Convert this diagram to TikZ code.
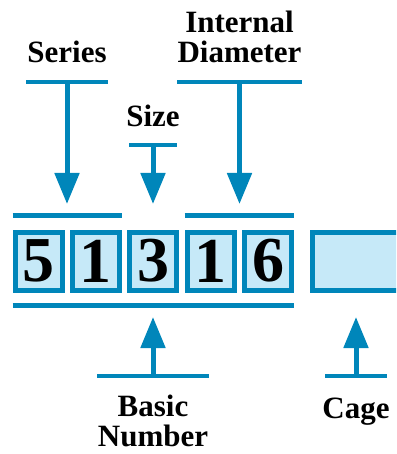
\documentclass[tikz,border=0pt]{standalone}
\usepackage{fontspec}
\setmainfont{Liberation Serif}
\usetikzlibrary{arrows.meta}
\definecolor{bblue}{RGB}{0,134,186}
\definecolor{bfill}{RGB}{198,233,248}
\begin{document}
\begin{tikzpicture}[x=1pt,y=-1pt,
  digit/.style={draw=bblue,fill=bfill,line width=5pt,minimum width=47pt,minimum height=58pt,inner sep=0pt,font=\fontsize{64}{64}\selectfont\bfseries},
  lbl/.style={font=\fontsize{31}{30}\selectfont\bfseries,align=center,inner sep=0pt,anchor=base},
  bar/.style={bblue,line width=4.8pt},
  pointer/.style={bblue,line width=5pt,-{Triangle[length=31pt,width=24pt]}}]
  \useasboundingbox (0,0) rectangle (396,454);
  \clip (0,0) rectangle (396,454);
  % Ziffernfelder
  \foreach \d [count=\i] in {5,1,3,1,6}
    \node[digit] (d\i) at ({38.5+57.4*(\i-1)},261) {\d};
  \node[digit,minimum width=105pt] (cage) at (365,261) {};
  % Balken über/unter den Ziffern
  \draw[bar] ([yshift=14pt]d1.north west) -- ([yshift=14pt]d2.north east);
  \draw[bar] ([yshift=14pt]d4.north west) -- ([yshift=14pt]d5.north east);
  \draw[bar] ([yshift=-13pt]d1.south west) -- ([yshift=-13pt]d5.south east);
  % Beschriftungen
  \node[lbl] (series) at (67,63) {Series};
  \node[lbl] (size) at (153,127) {Size};
  \node[lbl] (diam) at (239.5,63) {Internal\\Diameter};
  \node[lbl] (basic) at (153,446) {Basic\\Number};
  \node[lbl] (cagelbl) at (356,418) {Cage};
  % Zeiger oben
  \draw[bar] (26,82) -- (108,82) coordinate[pos=0.5] (serB);
  \draw[bar] (129,145) -- (177,145) coordinate[pos=0.5] (sizB);
  \draw[bar] (177,82) -- (302,82) coordinate[pos=0.5] (diaB);
  \coordinate (serT) at (67,204);
  \coordinate (sizT) at (153,204);
  \coordinate (diaT) at (239.5,204);
  \draw[pointer] (serB) -- (serT);
  \draw[pointer] (sizB) -- (sizT);
  \draw[pointer] (diaB) -- (diaT);
  % Zeiger unten
  \draw[bar] (97,376) -- (209,376) coordinate[pos=0.5] (basB);
  \draw[bar] (325,376) -- (387,376) coordinate[pos=0.5] (cagB);
  \coordinate (basT) at (153,317);
  \coordinate (cagT) at (356,317);
  \draw[pointer] (basB) -- (basT);
  \draw[pointer] (cagB) -- (cagT);
\end{tikzpicture}
\end{document}
